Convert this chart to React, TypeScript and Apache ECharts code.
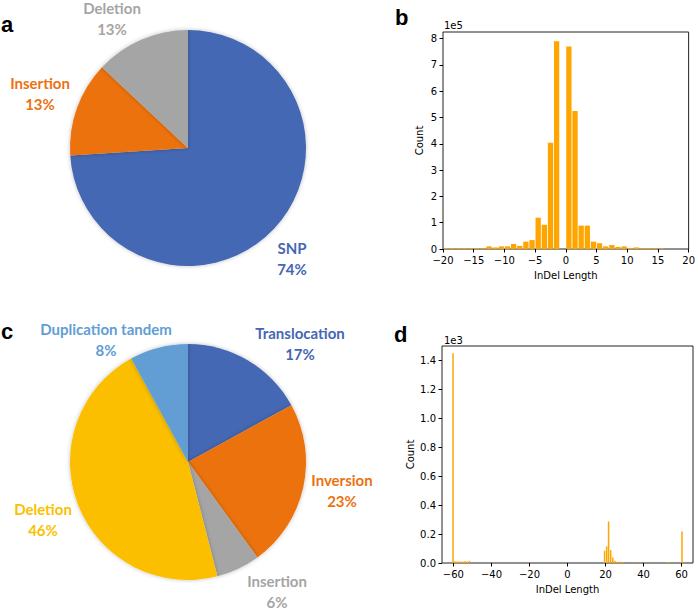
import React, { useEffect, useRef } from 'react';
import * as echarts from 'echarts';

// ---- Data ----
const smallVarCategories = ['SNP', 'Insertion', 'Deletion'];
const smallVarValues = [74, 13, 13];

const svCategories = ['Translocation', 'Inversion', 'Insertion', 'Deletion', 'Duplication tandem'];
const svValues = [17, 23, 6, 46, 8];

// panel b: InDel length histogram (bin centres, counts)
const indelBinCenters = [
  -19.5, -18.5, -17.5, -16.5, -15.5, -14.5, -13.5, -12.5, -11.5, -10.5, -9.5, -8.5, -7.5, -6.5,
  -5.5, -4.5, -3.5, -2.5, -1.5, 0.5, 1.5, 2.5, 3.5, 4.5, 5.5, 6.5, 7.5, 8.5, 9.5, 10.5, 11.5,
  12.5, 13.5, 14.5, 15.5,
];
const indelCounts = [
  3000, 3000, 3000, 3000, 3000, 3000, 3000, 10000, 6000, 10000, 10000, 19000, 12000, 28000,
  34000, 119000, 92000, 404000, 790000, 770000, 525000, 89000, 89000, 28000, 22000, 10000, 15000,
  8000, 10000, 4000, 6000, 3000, 3000, 2500, 2500,
];

// panel d: SV InDel length histogram (bin centres, counts)
const svBinCenters = [
  -60.2, -59.3, -58.2, -57.1, -56.0, -54.9, -53.8, -52.7, -51.6, 19.5, 20.6, 21.6, 22.7, 23.8,
  24.9, 26.0, 27.1, 28.2, 29.3, 38.1, 52.5, 53.6, 60.2,
];
const svCounts = [
  1450, 12, 10, 10, 10, 8, 12, 10, 15, 85, 115, 287, 90, 38, 15, 6, 8, 8, 5, 3, 4, 3, 218,
];

// tick values
const indelXTicks = [-20, -15, -10, -5, 0, 5, 10, 15, 20];
const indelYTicks = [0, 100000, 200000, 300000, 400000, 500000, 600000, 700000, 800000];
const svXTicks = [-60, -40, -20, 0, 20, 40, 60];
const svYTicks = [0, 200, 400, 600, 800, 1000, 1200, 1400];

// ---- Styles / layout ----
const smallVarColors = ['#4567B4', '#EC7211', '#A6A5A5'];
const svColors = ['#4567B4', '#EC7211', '#A6A5A5', '#FBBF00', '#629DD3'];
const pieALabelPos = [[292, 258], [40, 93], [112, 18]];
const pieCLabelPos = [[300, 343], [342, 490], [277, 591], [43, 519], [106, 339]];

const minus = (v: number) => (v < 0 ? '\u2212' + Math.abs(v) : String(v));
const MPL_FONT = 'DejaVu Sans';

function histAxes(
  gridIndex: number,
  xMin: number,
  xMax: number,
  yMax: number,
  xTicks: number[],
  yTicks: number[],
  yFmt: (v: number) => string,
  yNameGap: number
) {
  const tick = { show: true, length: 3.5, inside: false, lineStyle: { color: '#000', width: 1 } };
  const label = { fontFamily: MPL_FONT, fontSize: 10, color: '#000', margin: 6 };
  return {
    x: {
      type: 'value',
      gridIndex,
      min: xMin,
      max: xMax,
      position: 'bottom',
      name: 'InDel Length',
      nameLocation: 'middle',
      nameGap: 21,
      nameTextStyle: { fontFamily: MPL_FONT, fontSize: 10, color: '#000' },
      axisLine: { show: false, onZero: false },
      splitLine: { show: false },
      axisTick: { ...tick, customValues: xTicks },
      axisLabel: { ...label, customValues: xTicks, formatter: (v: number) => minus(v) },
    },
    y: {
      type: 'value',
      gridIndex,
      min: 0,
      max: yMax,
      position: 'left',
      name: 'Count',
      nameLocation: 'middle',
      nameGap: yNameGap,
      nameTextStyle: { fontFamily: MPL_FONT, fontSize: 10, color: '#000' },
      axisLine: { show: false, onZero: false },
      splitLine: { show: false },
      axisTick: { ...tick, customValues: yTicks },
      axisLabel: { ...label, customValues: yTicks, formatter: yFmt },
    },
  };
}

function pieSeries(
  cats: string[],
  vals: number[],
  colors: string[],
  center: number[],
  labelPos: number[][]
) {
  return {
    type: 'pie',
    center,
    radius: 118,
    startAngle: 90,
    clockwise: true,
    avoidLabelOverlap: false,
    data: cats.map((name, i) => ({
      name,
      value: vals[i],
      itemStyle: { color: colors[i] },
      label: { color: colors[i] },
    })),
    itemStyle: { shadowBlur: 4, shadowColor: 'rgba(0,0,0,0.25)' },
    label: {
      show: true,
      position: 'outside',
      formatter: (p: any) => `${p.name}\n${Math.round(p.percent)}%`,
      fontFamily: 'Lato',
      fontWeight: 'bold',
      fontSize: 15,
      lineHeight: 21,
      align: 'center',
    },
    labelLine: { show: false },
    labelLayout: (p: any) => {
      const pos = labelPos[p.dataIndex];
      return { x: pos[0], y: pos[1], align: 'center', verticalAlign: 'middle' };
    },
    emphasis: { disabled: true },
  };
}

export default function App() {
  const ref = useRef<HTMLDivElement>(null);
  useEffect(() => {
    if (!ref.current) return;
    const chart = echarts.init(ref.current, undefined, { renderer: 'svg' });
    const b = histAxes(0, -20, 20, 825000, indelXTicks, indelYTicks, (v) => String(Math.round(v / 100000)), 19);
    const d = histAxes(1, -66, 66, 1500, svXTicks, svYTicks, (v) => (v / 1000).toFixed(1), 27);
    const panelLetter = (text: string, x: number, y: number) => ({
      type: 'text',
      x,
      y,
      style: {
        text,
        fontFamily: 'Liberation Sans',
        fontWeight: 'bold',
        fontSize: 22,
        fill: '#000',
        verticalAlign: 'middle',
      },
    });
    const offsetText = (text: string, x: number, y: number) => ({
      type: 'text',
      x,
      y,
      style: { text, fontFamily: MPL_FONT, fontSize: 10, fill: '#000', verticalAlign: 'middle' },
    });
    chart.setOption({
      animation: false,
      backgroundColor: '#fff',
      grid: [
        { left: 443, top: 32, width: 249, height: 217, show: true, borderColor: '#222', borderWidth: 1, backgroundColor: 'transparent' },
        { left: 442, top: 346, width: 251, height: 217, show: true, borderColor: '#222', borderWidth: 1, backgroundColor: 'transparent' },
      ],
      xAxis: [b.x, d.x],
      yAxis: [b.y, d.y],
      series: [
        pieSeries(smallVarCategories, smallVarValues, smallVarColors, [188, 148], pieALabelPos),
        pieSeries(svCategories, svValues, svColors, [188, 462], pieCLabelPos),
        {
          type: 'bar',
          xAxisIndex: 0,
          yAxisIndex: 0,
          barWidth: 5.3,
          data: indelBinCenters.map((x, i) => [x, indelCounts[i]]),
          itemStyle: { color: '#FFA500' },
          emphasis: { disabled: true },
        },
        {
          type: 'bar',
          xAxisIndex: 1,
          yAxisIndex: 1,
          barWidth: 1.5,
          data: svBinCenters.map((x, i) => [x, svCounts[i]]),
          itemStyle: { color: '#FFA500' },
          emphasis: { disabled: true },
        },
      ],
      graphic: [
        panelLetter('a', 1, 24),
        panelLetter('b', 395, 17),
        panelLetter('c', 1, 331),
        panelLetter('d', 394, 334),
        offsetText('1e5', 444, 25),
        offsetText('1e3', 444, 340),
      ],
    });
    return () => chart.dispose();
  }, []);
  return (
    <div
      ref={ref}
      style={{ position: 'fixed', left: 0, top: 0, width: 698, height: 610, background: '#fff' }}
    />
  );
}
